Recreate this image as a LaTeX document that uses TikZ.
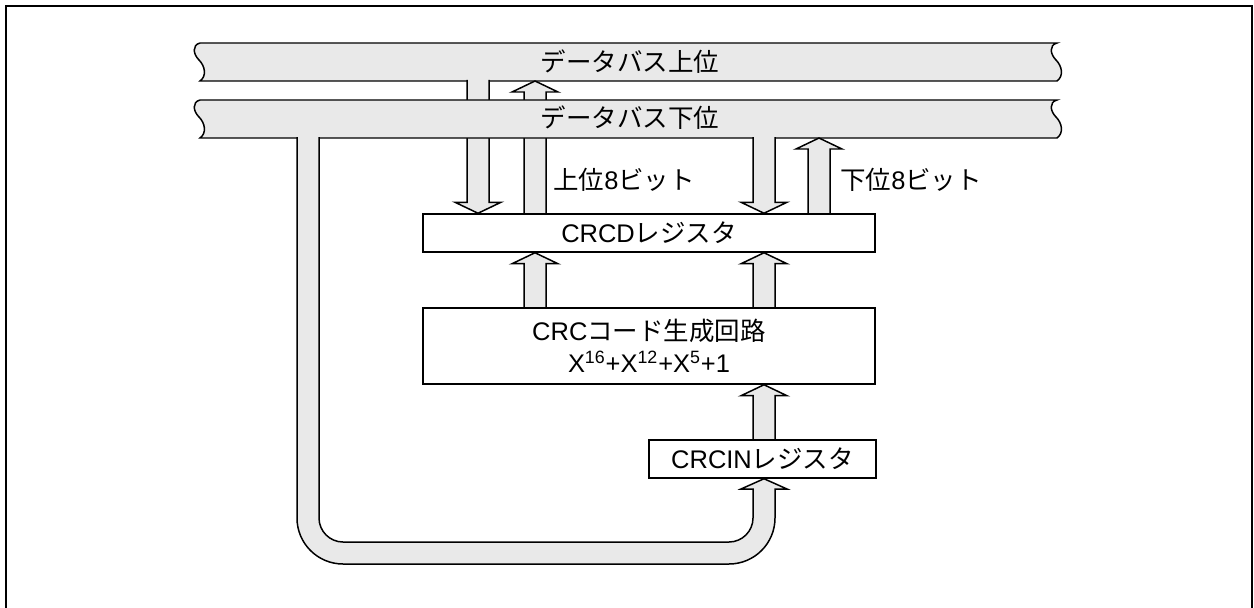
\documentclass[tikz,border=0pt]{standalone}
\usepackage{fontspec}
\setmainfont{Liberation Sans}
\newfontfamily\jp{Noto Sans CJK JP}
\usetikzlibrary{calc,positioning}
\definecolor{busgray}{HTML}{E9E9E9}
\pgfdeclarelayer{bg}
\pgfsetlayers{bg,main}

\tikzset{
  regbox/.style={draw, fill=white, line width=0.85pt, inner sep=0pt, minimum height=0.76cm,
    font=\fontsize{14.5}{18}\selectfont, align=center},
  pipe/.style={fill=busgray, draw, line width=0.85pt, line join=miter},
  lbl/.style={inner sep=0pt, font=\fontsize{14.5}{18}\selectfont}
}

% fat arrows: #1 = tail, #2 = tip
\newcommand{\sw}{11}
\newcommand{\hw}{23}
\newcommand{\hl}{11}
\newcommand{\fatup}[2]{\path[pipe] ($(#1)+(-\sw,0)$) -- ($(#2)+(-\sw,\hl)$) -- ($(#2)+(-\hw,\hl)$) -- (#2)
  -- ($(#2)+(\hw,\hl)$) -- ($(#2)+(\sw,\hl)$) -- ($(#1)+(\sw,0)$);}
\newcommand{\fatdown}[2]{\path[pipe] ($(#1)+(-\sw,0)$) -- ($(#2)+(-\sw,-\hl)$) -- ($(#2)+(-\hw,-\hl)$) -- (#2)
  -- ($(#2)+(\hw,-\hl)$) -- ($(#2)+(\sw,-\hl)$) -- ($(#1)+(\sw,0)$);}
% data bus with wavy ends, #1 = top y
\newcommand{\databus}[1]{\path[pipe] (200,#1) -- (1057,#1)
  .. controls (1049,#1+2) and (1050,#1+11) .. (1056,#1+17)
  .. controls (1062,#1+23) and (1064,#1+33) .. (1057,#1+38) -- (200,#1+38)
  .. controls (207,#1+33) and (205,#1+23) .. (199,#1+17)
  .. controls (193,#1+11) and (192,#1+2) .. (200,#1) -- cycle;}

\begin{document}
\begin{tikzpicture}[x=0.02cm, y=-0.02cm]
\useasboundingbox (0,0) rectangle (1254,608);
\draw[line width=1.4pt] (6,608) -- (6,6) -- (1252,6) -- (1252,608);

% columns
\coordinate (c1) at (478,0);
\coordinate (c2) at (535,0);
\coordinate (c3) at (764,0);
\coordinate (c4) at (819,0);
% bus edges
\coordinate (hib) at (0,80);
\coordinate (hitip) at (0,81);
\coordinate (lob) at (0,137);
\coordinate (lotip) at (0,138);

% registers
\node[regbox, minimum width=9.04cm] (crcd) at (649,233) {CRCD{\jp レジスタ}};
\node[regbox, minimum width=9.04cm, minimum height=1.52cm] (gen) at (649,346)
  {CRC{\jp コード生成回路}\\X\textsuperscript{16}+X\textsuperscript{12}+X\textsuperscript{5}+1};
\node[regbox, minimum width=4.54cm] (crcin) at (762.5,459) {CRCIN{\jp レジスタ}};

\begin{pgfonlayer}{bg}
\databus{43}
\fatdown{c1 |- hib}{c1 |- crcd.north}
\fatup{c2 |- crcd.north}{c2 |- hitip}
\databus{100}
\fatdown{c3 |- lob}{c3 |- crcd.north}
\fatup{c4 |- crcd.north}{c4 |- lotip}
\fatup{c2 |- gen.north}{c2 |- crcd.south}
\fatup{c3 |- gen.north}{c3 |- crcd.south}
\fatup{c3 |- crcin.north}{c3 |- gen.south}
% loop from the lower bus back to CRCIN
\path[pipe] (297,137) -- (297,518) .. controls (297,543.4) and (317.6,564) .. (343,564)
  -- (729,564) .. controls (754.4,564) and (775,543.4) .. (775,518) -- (775,489) -- (787,489)
  -- (c3 |- crcin.south) -- (741,489) -- (753,489) -- (753,518)
  .. controls (753,531.2) and (742.2,542) .. (729,542) -- (343,542)
  .. controls (329.8,542) and (319,531.2) .. (319,518) -- (319,137);
\end{pgfonlayer}

% bus names and labels
\node[lbl] (hiname) at (630,62) {\jp データバス上位};
\node[lbl] (loname) at (630,118) {\jp データバス下位};
\node[lbl, anchor=west] (hilbl) at (553,180) {{\jp 上位}8{\jp ビット}};
\node[lbl, anchor=west] (lolbl) at (840,180) {{\jp 下位}8{\jp ビット}};
\end{tikzpicture}
\end{document}
